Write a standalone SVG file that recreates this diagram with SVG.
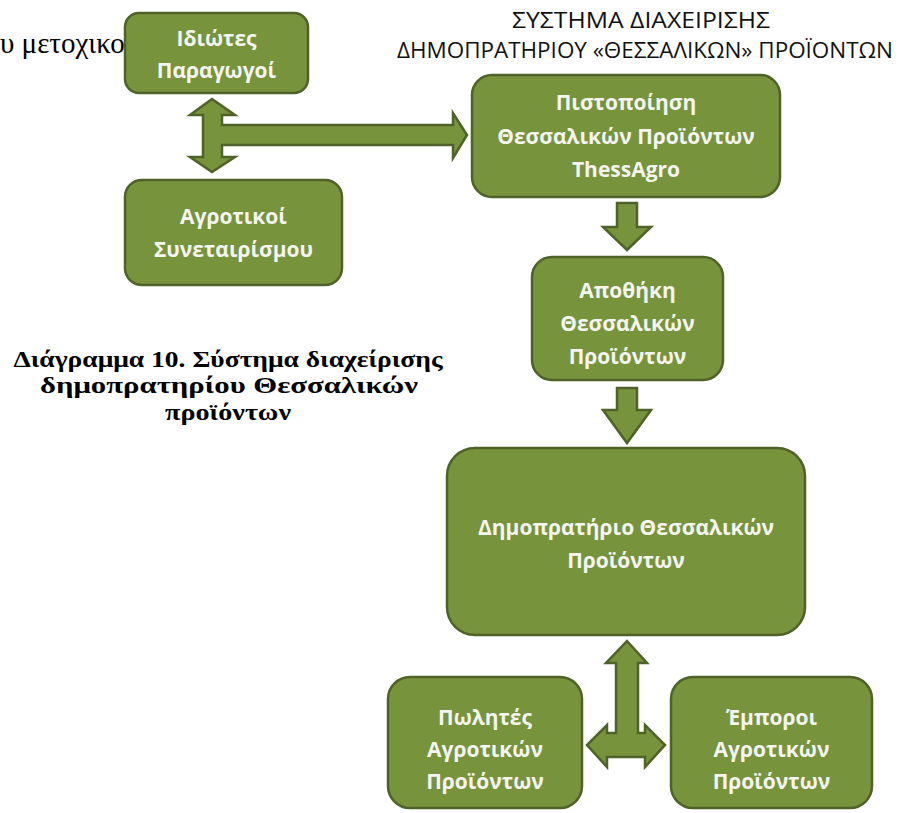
<svg xmlns="http://www.w3.org/2000/svg" width="899" height="813" viewBox="0 0 899 813">
<style>
.box{fill:#77933C;stroke:#4F6228;stroke-width:2.5}
.arr{fill:#77933C;stroke:#4F6228;stroke-width:2.5;stroke-linejoin:miter}
.nt{font-family:"Open Sans","Noto Sans","DejaVu Sans",sans-serif;font-weight:bold;font-size:21px;fill:#F4F4F0;text-anchor:middle}
.ttl{font-family:"Open Sans","Noto Sans","DejaVu Sans",sans-serif;font-size:22px;fill:#111}
.cap{font-family:"Liberation Serif","Times New Roman",serif;font-weight:bold;font-size:23px;fill:#000;text-anchor:middle}
.body{font-family:"Liberation Serif","Times New Roman",serif;font-size:29px;fill:#000}
</style>
<rect width="899" height="813" fill="#fff"/>
<text class="body" x="0" y="53">υ μετοχικο</text>
<g id="title">
<text class="ttl" x="512" y="28" textLength="258" lengthAdjust="spacingAndGlyphs">ΣΥΣΤΗΜΑ ΔΙΑΧΕΙΡΙΣΗΣ</text>
<text class="ttl" x="397" y="58" textLength="496" lengthAdjust="spacingAndGlyphs">ΔΗΜΟΠΡΑΤΗΡΙΟΥ «ΘΕΣΣΑΛΙΚΩΝ» ΠΡΟΪΟΝΤΩΝ</text>
</g>
<g id="caption">
<text class="cap" x="228" y="367" textLength="429" lengthAdjust="spacingAndGlyphs">Διάγραμμα 10. Σύστημα διαχείρισης</text>
<text class="cap" x="229" y="393" textLength="378" lengthAdjust="spacingAndGlyphs">δημοπρατηρίου Θεσσαλικών</text>
<text class="cap" x="228" y="420" textLength="126" lengthAdjust="spacingAndGlyphs">προϊόντων</text>
</g>
<g id="connectors">
<path class="arr" d="M212,99 L235,115 L222,115 L222,125 L453,125 L453,113 L467,135 L453,158 L453,145 L222,145 L222,157 L235,157 L212,172 L190,157 L203,157 L203,115 L190,115 Z"/>
<path class="arr" d="M617,203 L637,203 L637,227 L651,227 L627,250 L603,227 L617,227 Z"/>
<path class="arr" d="M617,388 L637,388 L637,410 L651,410 L627,443 L603,410 L617,410 Z"/>
<path class="arr" d="M627,641 L647,663 L638,663 L638,733 L645,733 L645,725 L665,745 L645,767 L645,757 L607,757 L607,767 L587,745 L607,725 L607,733 L616,733 L616,663 L606,663 Z"/>
</g>
<g id="n-idiotes">
<rect class="box" x="125" y="13" width="183" height="80" rx="14"/>
<text class="nt" x="216.5" y="46">Ιδιώτες</text>
<text class="nt" x="216.5" y="78">Παραγωγοί</text>
</g>
<g id="n-agrotikoi">
<rect class="box" x="125" y="180" width="217" height="105" rx="17"/>
<text class="nt" x="233.5" y="224">Αγροτικοί</text>
<text class="nt" x="233.5" y="257">Συνεταιρίσμου</text>
</g>
<g id="n-pistopoiisi">
<rect class="box" x="472" y="75" width="308" height="122" rx="20"/>
<text class="nt" x="626" y="110">Πιστοποίηση</text>
<text class="nt" x="626" y="144">Θεσσαλικών Προϊόντων</text>
<text class="nt" x="626" y="177">ThessAgro</text>
</g>
<g id="n-apothiki">
<rect class="box" x="532" y="257" width="191" height="123" rx="20"/>
<text class="nt" x="627.5" y="298">Αποθήκη</text>
<text class="nt" x="627.5" y="331">Θεσσαλικών</text>
<text class="nt" x="627.5" y="364">Προϊόντων</text>
</g>
<g id="n-dimopratirio">
<rect class="box" x="447" y="448" width="358" height="187" rx="28"/>
<text class="nt" x="626" y="535">Δημοπρατήριο Θεσσαλικών</text>
<text class="nt" x="626" y="568">Προϊόντων</text>
</g>
<g id="n-polites">
<rect class="box" x="388" y="677" width="194" height="131" rx="22"/>
<text class="nt" x="485" y="725">Πωλητές</text>
<text class="nt" x="485" y="757">Αγροτικών</text>
<text class="nt" x="485" y="789">Προϊόντων</text>
</g>
<g id="n-emporoi">
<rect class="box" x="671" y="677" width="201" height="131" rx="22"/>
<text class="nt" x="771.5" y="725">Έμποροι</text>
<text class="nt" x="771.5" y="757">Αγροτικών</text>
<text class="nt" x="771.5" y="789">Προϊόντων</text>
</g>
</svg>
